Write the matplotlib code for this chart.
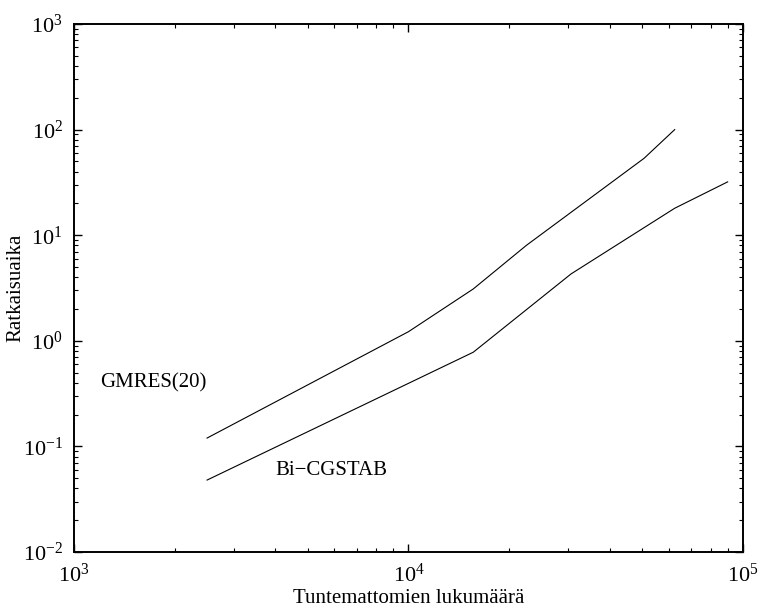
import matplotlib
matplotlib.use("Agg")
import matplotlib.pyplot as plt

plt.rcParams['font.family'] = ['Liberation Serif', 'DejaVu Serif']
plt.rcParams['mathtext.fontset'] = 'custom'
plt.rcParams['mathtext.rm'] = 'Liberation Serif'

# solution time vs. number of unknowns
n_gmres = [2500, 10000, 15625, 22500, 50625, 62500]
t_gmres = [0.12, 1.22, 3.1, 8.0, 53.5, 100.0]

n_bicg = [2500, 15625, 30625, 62500, 90000]
t_bicg = [0.048, 0.78, 4.3, 18.0, 32.0]

fig = plt.figure(figsize=(7.61, 6.08), dpi=100)
ax = fig.add_axes([0.0972, 0.0921, 0.8791, 0.8684])

ax.plot(n_gmres, t_gmres, color='k', lw=0.8)
ax.plot(n_bicg, t_bicg, color='k', lw=0.8)

ax.set_xscale('log')
ax.set_yscale('log')
ax.set_xlim(1e3, 1e5)
ax.set_ylim(1e-2, 1e3)

ax.text(1.2e3, 0.40, 'GMRES(20)', fontsize=15, va='center', ha='left')
ax.text(3.99e3, 0.059, 'Bi\u2212CGSTAB', fontsize=15, va='center', ha='left')

ax.set_xlabel('Tuntemattomien lukumäärä', fontsize=15)
ax.set_ylabel('Ratkaisuaika', fontsize=15)
ax.xaxis.set_label_coords(0.5, -0.071)
ax.yaxis.set_label_coords(-0.072, 0.5)

for s in ax.spines.values():
    s.set_linewidth(1.4)
ax.tick_params(which='both', direction='in', top=True, right=True,
               labelsize=16)
ax.tick_params(which='major', length=6, width=1.0, pad=8)
ax.tick_params(which='minor', length=3, width=0.8)

fig.savefig('out.png', dpi=100)
